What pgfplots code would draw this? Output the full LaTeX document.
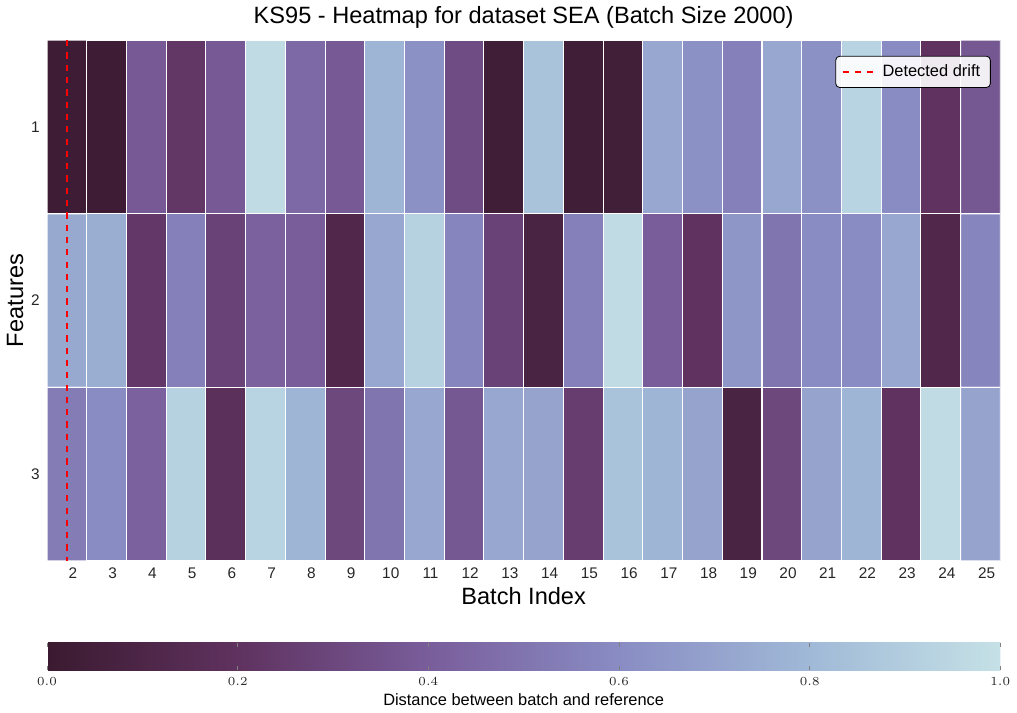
\documentclass[border=0pt]{standalone}
\usepackage{pgfplots}
\pgfplotsset{compat=1.18}
\usepackage{fontspec}
\setmainfont{Liberation Sans}
\begin{document}
\begin{tikzpicture}
\begin{axis}[
  scale only axis, width=465pt, height=254pt,
  xmin=1.5, xmax=25.5, ymin=0.5, ymax=3.5, y dir=reverse,
  xtick={2,...,25}, ytick={1,2,3},
  major tick length=0pt,
  axis line style={draw=none},
  /pgf/number format/assume math mode=true,
  tick label style={font=\fontsize{7.5}{9}\selectfont, text=black!85},
  xticklabel style={xshift=3pt},
  title={KS95 - Heatmap for dataset SEA (Batch Size 2000)},
  title style={font=\fontsize{11.5}{13}\selectfont, yshift=-4pt},
  xlabel={Batch Index}, ylabel={Features},
  xlabel style={font=\fontsize{11.5}{13}\selectfont, yshift=3pt},
  ylabel style={font=\fontsize{11.5}{13}\selectfont, yshift=-3pt},
  colormap={tw}{rgb255(0)=(59,26,48); rgb255(0.2)=(95,50,95); rgb255(0.4)=(121,93,155); rgb255(0.6)=(137,140,195); rgb255(0.8)=(160,185,215); rgb255(1)=(197,225,230)},
  point meta min=0, point meta max=1,
  colorbar horizontal,
  colorbar style={at={(0,-0.157)}, anchor=north west, width=465pt, height=13.5pt,
    xtick={0,0.2,...,1}, xticklabel style={font=\fontsize{5.8}{7}\selectfont, /pgf/number format/fixed, /pgf/number format/fixed zerofill, /pgf/number format/precision=1},
    major tick length=2pt, axis line style={draw=none},
    xlabel={Distance between batch and reference},
    xlabel style={font=\fontsize{8}{9}\selectfont, yshift=3pt}},
  legend style={at={(0.99,0.97)}, anchor=north east, font=\fontsize{8}{9}\selectfont, fill=white, fill opacity=0.9, text opacity=1, draw=black, rounded corners=2pt},
  legend cell align=left,
]
\addplot[matrix plot*, mesh/cols=24, point meta=explicit, draw=white, line width=0.5pt, forget plot] table[meta=c]{
x y c
2 1 0.02
3 1 0.02
4 1 0.38
5 1 0.22
6 1 0.38
7 1 0.97
8 1 0.45
9 1 0.38
10 1 0.78
11 1 0.62
12 1 0.32
13 1 0.03
14 1 0.85
15 1 0.03
16 1 0.04
17 1 0.72
18 1 0.62
19 1 0.55
20 1 0.72
21 1 0.62
22 1 0.93
23 1 0.60
24 1 0.20
25 1 0.37
2 2 0.73
3 2 0.75
4 2 0.23
5 2 0.55
6 2 0.28
7 2 0.42
8 2 0.40
9 2 0.12
10 2 0.72
11 2 0.92
12 2 0.57
13 2 0.28
14 2 0.08
15 2 0.55
16 2 0.97
17 2 0.40
18 2 0.20
19 2 0.64
20 2 0.50
21 2 0.60
22 2 0.60
23 2 0.72
24 2 0.12
25 2 0.57
2 3 0.53
3 3 0.60
4 3 0.42
5 3 0.92
6 3 0.18
7 3 0.93
8 3 0.78
9 3 0.30
10 3 0.50
11 3 0.72
12 3 0.37
13 3 0.72
14 3 0.70
15 3 0.25
16 3 0.85
17 3 0.78
18 3 0.70
19 3 0.08
20 3 0.30
21 3 0.70
22 3 0.78
23 3 0.20
24 3 0.97
25 3 0.70
};
\addplot[red, dashed, line width=0.8pt] coordinates {(2,0.5) (2,3.5)};
\addlegendentry{Detected drift}
\end{axis}
\end{tikzpicture}
\end{document}
